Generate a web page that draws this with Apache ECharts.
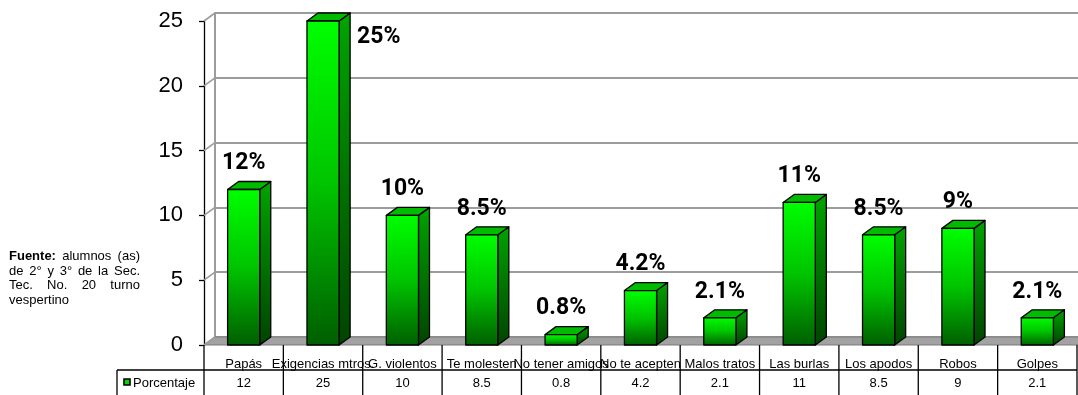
<!DOCTYPE html>
<html><head><meta charset="utf-8">
<script src="https://cdn.jsdelivr.net/npm/echarts@6/dist/echarts.min.js"></script>
<style>html,body{margin:0;padding:0;background:#fff}#c{width:1078px;height:395px}</style>
</head><body><div id="c"></div>
<script>
const categories = ['Papás','Exigencias mtros.','G. violentos','Te molesten','No tener amigos','No te acepten','Malos tratos','Las burlas','Los apodos','Robos','Golpes'];
const values = [12, 25, 10, 8.5, 0.8, 4.2, 2.1, 11, 8.5, 9, 2.1];
const yTicks = [0, 5, 10, 15, 20, 25];
const seriesName = 'Porcentaje';
const noteBoldWord = 'Fuente:';
const noteLines = ['Fuente: alumnos (as)', 'de 2° y 3° de la Sec.', 'Tec. No. 20 turno', 'vespertino'];

const DX = 11, DY = -8;
const FF = '"Liberation Sans", Arial, sans-serif';
const LABEL_FONT = 'bold 23px Roboto, "Liberation Sans", sans-serif';
const GRID_GRAY = '#9c9c9c';

const chart = echarts.init(document.getElementById('c'), null, {renderer: 'canvas'});

function renderBar(params, api) {
  const i = api.value(0), v = api.value(1);
  const p = api.coord([i, v]);
  const b = api.coord([i, 0]);
  const band = api.size([1, 0])[0];
  const w = band * 0.405;
  const l = p[0] - w / 2, r = l + w, t = p[1], bt = b[1];
  const st = {stroke: '#000', lineWidth: 1.3, lineJoin: 'round'};
  const frontFill = new echarts.graphic.LinearGradient(0, 0, 0, 1, [
    {offset: 0, color: '#00ff00'}, {offset: 0.5, color: '#00c400'}, {offset: 1, color: '#005e00'}]);
  const sideFill = new echarts.graphic.LinearGradient(0, 0, 0, 1, [
    {offset: 0, color: '#00a400'}, {offset: 1, color: '#004400'}]);
  const children = [
    {type: 'polygon', shape: {points: [[r, t], [r + DX, t + DY], [r + DX, bt + DY], [r, bt]]}, style: Object.assign({fill: sideFill}, st)},
    {type: 'polygon', shape: {points: [[l, t], [l + DX, t + DY], [r + DX, t + DY], [r, t]]}, style: Object.assign({fill: '#00bb00'}, st)},
    {type: 'rect', shape: {x: l, y: t, width: w, height: bt - t}, style: Object.assign({fill: frontFill}, st)}
  ];
  const txt = String(v) + '%';
  let lx = p[0], ly = t - 26, al = 'center';
  if (ly - 12 < 0) { lx = r + DX + 7; ly = t + 16; al = 'left'; }
  children.push({type: 'text', style: {text: txt, x: lx, y: ly, align: al, verticalAlign: 'middle', font: LABEL_FONT, fill: '#000'}});
  return {type: 'group', children};
}

function renderFloor(params, api) {
  const cs = params.coordSys;
  const y0 = cs.y + cs.height, x0 = cs.x, x1 = cs.x + cs.width;
  return {type: 'polygon', shape: {points: [[x0, y0], [x0 + DX, y0 + DY], [x1 + DX, y0 + DY], [x1, y0]]},
    style: {fill: '#a2a2a2', stroke: '#7a7a7a', lineWidth: 1}};
}

function renderConnector(params, api) {
  const cs = params.coordSys;
  const y = api.coord([0, api.value(1)])[1];
  return {type: 'line', shape: {x1: cs.x, y1: y, x2: cs.x + DX, y2: y + DY}, style: {stroke: GRID_GRAY, lineWidth: 1.6}};
}

function renderTable(params, api) {
  const i = api.value(0), v = api.value(1);
  const c = api.coord([i, 0]);
  const band = api.size([1, 0])[0];
  const l = c[0] - band / 2, r = c[0] + band / 2;
  const top = c[1], mid = top + 25, bot = top + 52;
  const ls = {stroke: '#000', lineWidth: 1.3};
  const ch = [
    {type: 'line', shape: {x1: r, y1: top, x2: r, y2: bot}, style: ls},
    {type: 'line', shape: {x1: l, y1: mid, x2: r, y2: mid}, style: ls},
    {type: 'text', style: {text: String(v), x: c[0], y: mid + 13, align: 'center', verticalAlign: 'middle', font: '13px ' + FF, fill: '#000'}}
  ];
  if (i === 0) {
    const hl = l - 87;
    ch.push({type: 'line', shape: {x1: l, y1: top, x2: l, y2: bot}, style: ls});
    ch.push({type: 'line', shape: {x1: hl, y1: mid, x2: l, y2: mid}, style: ls});
    ch.push({type: 'line', shape: {x1: hl, y1: mid, x2: hl, y2: bot}, style: ls});
    ch.push({type: 'rect', shape: {x: hl + 7, y: mid + 9, width: 6, height: 6}, style: {fill: '#00d800', stroke: '#000', lineWidth: 1.6}});
    ch.push({type: 'text', style: {text: seriesName, x: hl + 16, y: mid + 13, align: 'left', verticalAlign: 'middle', font: '13px ' + FF, fill: '#000'}});
  }
  return {type: 'group', children: ch};
}

// Justified note text on the left
function buildNote() {
  const ctx = document.createElement('canvas').getContext('2d');
  const left = 9, right = 140, W = right - left, y0 = 258, lh = 14.6;
  const els = [];
  noteLines.forEach((line, k) => {
    const words = line.split(' ');
    const fonts = words.map(wd => (wd === noteBoldWord ? 'bold ' : '') + '13px ' + FF);
    const widths = words.map((wd, j) => { ctx.font = fonts[j]; return ctx.measureText(wd).width; });
    const sum = widths.reduce((a, b) => a + b, 0);
    const last = k === noteLines.length - 1;
    ctx.font = '13px ' + FF;
    const gap = (!last && words.length > 1) ? (W - sum) / (words.length - 1) : ctx.measureText(' ').width;
    let x = left;
    words.forEach((wd, j) => {
      els.push({type: 'text', left: x, top: y0 + k * lh - 8, style: {text: wd, font: fonts[j], fill: '#000'}});
      x += widths[j] + gap;
    });
  });
  return els;
}

const barData = values.map((v, i) => [i, v]);

chart.setOption({
  animation: false,
  backgroundColor: '#fff',
  grid: [
    {left: 204, right: 1, top: 21, bottom: 50},
    {left: 204 + DX, right: 1 - DX, top: 21 + DY, bottom: 50 - DY}
  ],
  xAxis: [
    {type: 'category', gridIndex: 0, data: categories, boundaryGap: true,
      axisLine: {show: false}, axisTick: {show: false},
      axisLabel: {interval: 0, hideOverlap: false, margin: 19, verticalAlign: 'middle', color: '#000', fontSize: 13, fontFamily: FF}},
    {type: 'category', gridIndex: 1, data: categories, show: false}
  ],
  yAxis: [
    {type: 'value', gridIndex: 0, min: 0, max: 25, interval: 5,
      axisLine: {show: true, lineStyle: {color: '#000', width: 1.3}},
      axisTick: {show: true, length: 5, lineStyle: {color: '#000', width: 1.3}},
      axisLabel: {margin: 21, color: '#000', fontSize: 22, fontFamily: FF},
      splitLine: {show: false}},
    {type: 'value', gridIndex: 1, min: 0, max: 25, interval: 5,
      axisLine: {show: true, lineStyle: {color: GRID_GRAY, width: 2}},
      axisTick: {show: false}, axisLabel: {show: false},
      splitLine: {show: true, lineStyle: {color: GRID_GRAY, width: 2}}}
  ],
  graphic: buildNote(),
  series: [
    {type: 'custom', name: 'floor', xAxisIndex: 0, yAxisIndex: 0, data: [[0, 0]], renderItem: renderFloor, clip: false, z: 1, silent: true},
    {type: 'custom', name: 'walls', xAxisIndex: 0, yAxisIndex: 0, data: yTicks.map(t => [0, t]), renderItem: renderConnector, clip: false, z: 1, silent: true},
    {type: 'custom', name: seriesName, xAxisIndex: 0, yAxisIndex: 0, data: barData, renderItem: renderBar, clip: false, z: 3},
    {type: 'custom', name: 'table', xAxisIndex: 0, yAxisIndex: 0, data: barData, renderItem: renderTable, clip: false, z: 3, silent: true}
  ]
});
</script>
</body></html>
